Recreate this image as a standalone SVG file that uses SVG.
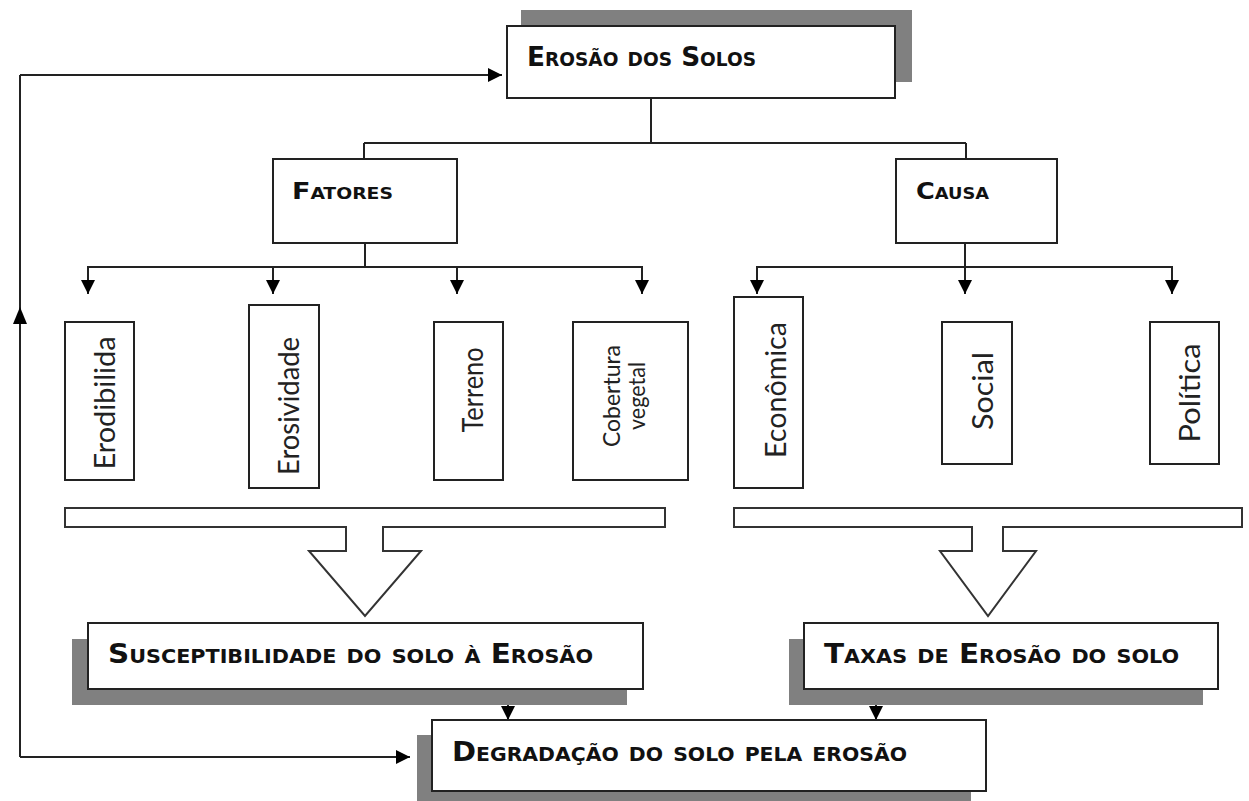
<svg xmlns="http://www.w3.org/2000/svg" width="1249" height="801" viewBox="0 0 1249 801">
<defs>
<marker id="ah" markerUnits="userSpaceOnUse" markerWidth="16" markerHeight="16" refX="14" refY="7" orient="auto">
<path d="M0,0 L14,7 L0,14 z" fill="#000"/>
</marker>
<style>
.box{fill:#fff;stroke:#222;stroke-width:2}
.shadow{fill:#808080}
.ln{fill:none;stroke:#222;stroke-width:2}
.arr{fill:none;stroke:#222;stroke-width:2;marker-end:url(#ah)}
.big{fill:#fff;stroke:#333;stroke-width:2;stroke-linejoin:miter}
.t{font-family:"DejaVu Sans Condensed","DejaVu Sans",sans-serif;font-weight:bold;font-variant:small-caps;fill:#111}
.v{font-family:Lato,"Noto Sans",sans-serif;fill:#222;text-anchor:middle}
</style>
</defs>
<rect width="1249" height="801" fill="#fff"/>

<g id="connectors">
<path class="ln" d="M20,757 V75"/>
<path class="arr" d="M20,75 H502"/>
<path class="arr" d="M20,757 H410"/>
<polygon points="20,307 13,324 27,324" fill="#000"/>
<path class="ln" d="M651,98 V143 M364,143 H966 M364,143 V159 M966,143 V159"/>
<path class="ln" d="M365,243 V267 M88,267 H642 M757,267 H1172 M965,243 V267"/>
<path class="arr" d="M88,266 V294"/>
<path class="arr" d="M273,266 V294"/>
<path class="arr" d="M457,266 V294"/>
<path class="arr" d="M642,266 V294"/>
<path class="arr" d="M757,266 V294"/>
<path class="arr" d="M965,266 V294"/>
<path class="arr" d="M1172,266 V294"/>
<path class="arr" d="M508,689 V720"/>
<path class="arr" d="M876,689 V720"/>
<path class="big" d="M65,508 H665 V527 H383 V551 H421 L365,616 L309,551 H346 V527 H65 Z"/>
<path class="big" d="M734,508 H1242 V527 H1003 V551 H1036 L988,616 L940,551 H972 V527 H734 Z"/>
</g>

<g id="erosao-dos-solos">
<rect class="shadow" x="521" y="10" width="391" height="72"/>
<rect class="box" x="507" y="26" width="388" height="72"/>
<text class="t" x="527" y="66" font-size="27" textLength="229" lengthAdjust="spacingAndGlyphs">Erosão dos Solos</text>
</g>

<g id="fatores">
<rect class="box" x="273" y="159" width="184" height="84"/>
<text class="t" x="292" y="199" font-size="23" textLength="101" lengthAdjust="spacingAndGlyphs">Fatores</text>
</g>

<g id="causa">
<rect class="box" x="896" y="159" width="161" height="84"/>
<text class="t" x="916" y="199" font-size="23" textLength="73" lengthAdjust="spacingAndGlyphs">Causa</text>
</g>

<g id="erodibilida">
<rect class="box" x="65" y="322" width="69" height="158"/>
<text class="v" transform="translate(115,403) rotate(-90)" font-size="28" textLength="133" lengthAdjust="spacingAndGlyphs">Erodibilida</text>
</g>

<g id="erosividade">
<rect class="box" x="249" y="305" width="70" height="183"/>
<text class="v" transform="translate(299,406) rotate(-90)" font-size="28" textLength="138" lengthAdjust="spacingAndGlyphs">Erosividade</text>
</g>

<g id="terreno">
<rect class="box" x="434" y="322" width="69" height="158"/>
<text class="v" transform="translate(483,390) rotate(-90)" font-size="28" textLength="85" lengthAdjust="spacingAndGlyphs">Terreno</text>
</g>

<g id="cobertura-vegetal">
<rect class="box" x="573" y="322" width="115" height="158"/>
<text class="v" transform="translate(620,396) rotate(-90)" font-size="24" textLength="102" lengthAdjust="spacingAndGlyphs">Cobertura</text>
<text class="v" transform="translate(645,396) rotate(-90)" font-size="24" textLength="68" lengthAdjust="spacingAndGlyphs">vegetal</text>
</g>

<g id="economica">
<rect class="box" x="734" y="297" width="69" height="191"/>
<text class="v" transform="translate(786,390) rotate(-90)" font-size="28" textLength="136" lengthAdjust="spacingAndGlyphs">Econômica</text>
</g>

<g id="social">
<rect class="box" x="942" y="322" width="70" height="142"/>
<text class="v" transform="translate(993,391) rotate(-90)" font-size="28" textLength="78" lengthAdjust="spacingAndGlyphs">Social</text>
</g>

<g id="politica">
<rect class="box" x="1150" y="322" width="69" height="142"/>
<text class="v" transform="translate(1200,393) rotate(-90)" font-size="28" textLength="99" lengthAdjust="spacingAndGlyphs">Política</text>
</g>

<g id="susceptibilidade">
<rect class="shadow" x="72" y="639" width="555" height="66"/>
<rect class="box" x="88" y="623" width="555" height="66"/>
<text class="t" x="108" y="663" font-size="27" textLength="485" lengthAdjust="spacingAndGlyphs">Susceptibilidade do solo à Erosão</text>
</g>

<g id="taxas">
<rect class="shadow" x="789" y="639" width="414" height="66"/>
<rect class="box" x="804" y="623" width="414" height="66"/>
<text class="t" x="824" y="663" font-size="27" textLength="355" lengthAdjust="spacingAndGlyphs">Taxas de Erosão do solo</text>
</g>

<g id="degradacao">
<rect class="shadow" x="417" y="735" width="554" height="71"/>
<rect class="box" x="432" y="720" width="554" height="71"/>
<text class="t" x="452" y="761" font-size="27" textLength="455" lengthAdjust="spacingAndGlyphs">Degradação do solo pela erosão</text>
</g>
</svg>
